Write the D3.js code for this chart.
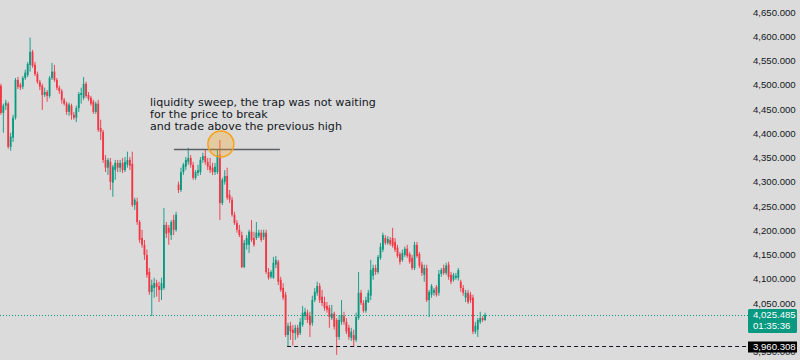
<!DOCTYPE html>
<html>
<head>
<meta charset="utf-8">
<script src="https://cdn.jsdelivr.net/npm/d3@7"></script>
<style>
    body { margin: 0; background: #dbdbdb; }
    svg { display: block; }
    .axis text { font-family: "Liberation Sans", Arial, sans-serif; font-size: 9.6px; fill: #131722; }
    .note { font-family: "DejaVu Sans", sans-serif; font-size: 11.1px; fill: #131722; }
    .tag { font-family: "Liberation Sans", Arial, sans-serif; font-size: 9.6px; fill: #ffffff; }
</style>
</head>
<body>
<script>
// candle values, one entry per bar
const opens = [
    4498, 4442, 4457, 4461, 4372, 4391, 4432, 4510, 4500, 4496,
    4514, 4520, 4541, 4568, 4541, 4522, 4506, 4498, 4479, 4485,
    4477, 4514, 4527, 4510, 4494, 4487, 4469, 4461, 4444, 4457,
    4438, 4432, 4452, 4479, 4473, 4502, 4479, 4473, 4465, 4444,
    4461, 4411, 4403, 4345, 4329, 4341, 4298, 4324, 4339, 4329,
    4339, 4324, 4335, 4345, 4337, 4252, 4259, 4217, 4184, 4170,
    4149, 4114, 4073, 4081, 4091, 4085, 4077, 4081, 4211, 4205,
    4190, 4221, 4201, 4294, 4283, 4320, 4331, 4341, 4349, 4335,
    4308, 4318, 4320, 4345, 4353, 4341, 4333, 4329, 4320, 4320,
    4355, 4256, 4300, 4312, 4273, 4263, 4232, 4215, 4201, 4190,
    4124, 4170, 4170, 4197, 4184, 4184, 4188, 4195, 4186, 4195,
    4114, 4104, 4102, 4129, 4135, 4098, 4081, 4067, 3984, 4003,
    3995, 3988, 3999, 3988, 4005, 4023, 4030, 4023, 4009, 4056,
    4071, 4085, 4063, 4052, 4044, 4040, 4019, 4028, 4015, 3980,
    4011, 4023, 4011, 3999, 3978, 3984, 3974, 4019, 4071, 4050,
    4034, 4052, 4065, 4106, 4122, 4114, 4143, 4160, 4184, 4174,
    4180, 4184, 4176, 4164, 4151, 4139, 4149, 4162, 4151, 4143,
    4122, 4170, 4151, 4129, 4108, 4122, 4056, 4067, 4071, 4083,
    4071, 4110, 4122, 4112, 4129, 4108, 4098, 4102, 4102, 4094,
    4081, 4061, 4071, 4067, 4061, 3991, 3995, 4011, 4019, 4015
]
const highs = [
    4502, 4461, 4469, 4465, 4401, 4438, 4514, 4516, 4504, 4518,
    4531, 4547, 4597, 4572, 4547, 4527, 4510, 4502, 4494, 4489,
    4518, 4545, 4541, 4514, 4498, 4491, 4473, 4465, 4463, 4461,
    4444, 4457, 4485, 4494, 4516, 4506, 4485, 4477, 4469, 4465,
    4469, 4428, 4407, 4355, 4349, 4349, 4335, 4345, 4345, 4345,
    4349, 4351, 4362, 4351, 4362, 4267, 4267, 4221, 4201, 4180,
    4160, 4122, 4098, 4102, 4098, 4094, 4102, 4246, 4217, 4211,
    4221, 4232, 4238, 4300, 4329, 4339, 4351, 4370, 4355, 4341,
    4324, 4335, 4351, 4360, 4366, 4349, 4349, 4339, 4339, 4366,
    4386, 4308, 4324, 4329, 4283, 4269, 4238, 4221, 4211, 4197,
    4180, 4190, 4201, 4221, 4197, 4217, 4201, 4201, 4201, 4201,
    4122, 4118, 4145, 4147, 4139, 4104, 4091, 4073, 4009, 4011,
    4005, 4005, 4005, 4019, 4044, 4040, 4036, 4032, 4065, 4081,
    4094, 4091, 4077, 4063, 4052, 4046, 4046, 4032, 4019, 4025,
    4056, 4032, 4019, 4005, 3999, 3995, 4030, 4114, 4077, 4056,
    4063, 4077, 4139, 4129, 4129, 4149, 4174, 4195, 4190, 4188,
    4186, 4205, 4184, 4170, 4155, 4160, 4166, 4170, 4155, 4149,
    4176, 4176, 4155, 4135, 4129, 4129, 4077, 4089, 4081, 4087,
    4118, 4122, 4129, 4133, 4135, 4114, 4112, 4112, 4122, 4098,
    4087, 4077, 4077, 4073, 4067, 4011, 4019, 4032, 4023, 4030
]
const lows = [
    4438, 4401, 4448, 4368, 4364, 4382, 4428, 4491, 4489, 4491,
    4510, 4516, 4527, 4535, 4518, 4502, 4489, 4448, 4475, 4465,
    4473, 4510, 4506, 4489, 4481, 4461, 4457, 4438, 4436, 4428,
    4428, 4423, 4444, 4461, 4469, 4473, 4467, 4457, 4440, 4440,
    4403, 4386, 4339, 4320, 4314, 4283, 4269, 4304, 4320, 4320,
    4318, 4320, 4329, 4324, 4248, 4242, 4211, 4174, 4164, 4139,
    4102, 4067, 4023, 4061, 4063, 4052, 4056, 4077, 4184, 4170,
    4180, 4190, 4197, 4277, 4279, 4314, 4324, 4335, 4329, 4304,
    4304, 4312, 4314, 4339, 4335, 4324, 4318, 4314, 4314, 4316,
    4221, 4252, 4294, 4263, 4256, 4228, 4211, 4195, 4186, 4122,
    4122, 4160, 4153, 4176, 4166, 4180, 4184, 4176, 4180, 4110,
    4098, 4100, 4100, 4122, 4087, 4073, 4056, 3980, 3960.308, 3974,
    3962, 3974, 3978, 3984, 4001, 4015, 4009, 3980, 4003, 4052,
    4065, 4050, 4044, 4034, 4030, 3999, 4015, 3995, 3943, 3974,
    4005, 4005, 3986, 3974, 3972, 3961, 3970, 4015, 4046, 4030,
    4030, 4050, 4056, 4098, 4108, 4110, 4139, 4155, 4170, 4170,
    4168, 4164, 4155, 4143, 4129, 4135, 4145, 4143, 4131, 4118,
    4118, 4143, 4122, 4106, 4094, 4052, 4021, 4061, 4065, 4063,
    4065, 4104, 4108, 4108, 4098, 4089, 4094, 4098, 4096, 4073,
    4065, 4052, 4048, 4050, 3986, 3986, 3980, 4007, 4011, 4013
]
const closes = [
    4442, 4457, 4463, 4372, 4393, 4432, 4510, 4496, 4494, 4514,
    4525, 4543, 4568, 4539, 4522, 4506, 4496, 4479, 4485, 4477,
    4514, 4527, 4510, 4494, 4487, 4469, 4461, 4444, 4459, 4438,
    4432, 4452, 4481, 4483, 4502, 4477, 4471, 4461, 4444, 4461,
    4407, 4403, 4345, 4329, 4345, 4300, 4331, 4339, 4329, 4339,
    4324, 4341, 4345, 4333, 4252, 4263, 4217, 4180, 4170, 4149,
    4108, 4073, 4087, 4091, 4083, 4077, 4091, 4211, 4193, 4195,
    4217, 4201, 4232, 4283, 4320, 4335, 4345, 4349, 4335, 4308,
    4320, 4324, 4345, 4353, 4341, 4331, 4324, 4320, 4331, 4355,
    4256, 4304, 4312, 4267, 4263, 4232, 4215, 4201, 4190, 4124,
    4174, 4184, 4197, 4180, 4170, 4195, 4195, 4180, 4195, 4114,
    4102, 4114, 4133, 4139, 4094, 4077, 4061, 3984, 4003, 3991,
    3988, 3999, 3984, 4011, 4030, 4032, 4015, 4005, 4056, 4073,
    4085, 4056, 4050, 4040, 4036, 4021, 4028, 4001, 3980, 4015,
    4025, 4011, 3991, 3980, 3991, 3974, 4021, 4071, 4050, 4034,
    4056, 4071, 4118, 4122, 4114, 4145, 4166, 4190, 4174, 4182,
    4172, 4168, 4160, 4147, 4135, 4153, 4162, 4147, 4135, 4122,
    4170, 4147, 4127, 4112, 4122, 4056, 4073, 4085, 4077, 4067,
    4110, 4118, 4112, 4127, 4104, 4094, 4108, 4106, 4118, 4081,
    4071, 4071, 4052, 4056, 3991, 4003, 4015, 4019, 4015, 4025.485
]

// 4,000.000 sits behind the last price tag, so it is not listed
const priceTicks = [3950, 4050, 4100, 4150, 4200, 4250, 4300, 4350, 4400, 4450, 4500, 4550, 4600, 4650]
const lastPrice = 4025.485
const countdown = "01:35:36"
const levelPrice = 3960.308
const noteLines = [
    "liquidity sweep, the trap was not waiting",
    "for the price to break",
    "and trade above the previous high"
]
const sweepHigh = 4386
const sweepIndex = 90

const WIDTH = 800
const HEIGHT = 360
const UP = "#089981"
const DOWN = "#f23645"

const svg = d3.select("body")
    .append("svg")
    .attr("width", WIDTH)
    .attr("height", HEIGHT)

const bars = d3.range(closes.length)

const xScale = d3.scaleBand()
    .domain(bars)
    .range([0, 486])
    .paddingInner(0.25)

const yScale = d3.scaleLinear()
    .domain([3950, 4650])
    .range([351.5, 12])

const cx = i => xScale(i) + xScale.bandwidth() / 2

// last price dotted line
svg.append("line")
    .attr("x1", 0)
    .attr("x2", 748)
    .attr("y1", Math.round(yScale(lastPrice)) + 0.5)
    .attr("y2", Math.round(yScale(lastPrice)) + 0.5)
    .attr("stroke", UP)
    .attr("stroke-dasharray", "1,2")

// wicks
svg.append("g")
    .selectAll("line")
    .data(bars)
    .enter()
    .append("line")
    .attr("x1", cx)
    .attr("x2", cx)
    .attr("y1", i => yScale(highs[i]))
    .attr("y2", i => yScale(lows[i]))
    .attr("stroke", i => closes[i] >= opens[i] ? UP : DOWN)
    .attr("stroke-width", 0.9)

// bodies
svg.append("g")
    .selectAll("rect")
    .data(bars)
    .enter()
    .append("rect")
    .attr("x", i => xScale(i))
    .attr("width", xScale.bandwidth())
    .attr("y", i => yScale(Math.max(opens[i], closes[i])))
    .attr("height", i => Math.max(1, Math.abs(yScale(opens[i]) - yScale(closes[i]))))
    .attr("fill", i => closes[i] >= opens[i] ? UP : DOWN)

// horizontal level
svg.append("line")
    .attr("x1", xScale(118))
    .attr("x2", 748)
    .attr("y1", yScale(levelPrice))
    .attr("y2", yScale(levelPrice))
    .attr("stroke", "#131722")
    .attr("stroke-dasharray", "4,3")

// previous high line and sweep circle
svg.append("line")
    .attr("x1", cx(sweepIndex) - 46)
    .attr("x2", cx(sweepIndex) + 60)
    .attr("y1", 149.5)
    .attr("y2", 149.5)
    .attr("stroke", "#5d5f66")
    .attr("stroke-width", 1.4)

svg.append("circle")
    .attr("cx", cx(sweepIndex) + 1)
    .attr("cy", yScale(sweepHigh) + 4)
    .attr("r", 13)
    .attr("fill", "rgba(247, 162, 27, 0.3)")
    .attr("stroke", "#f7a21b")
    .attr("stroke-width", 1.5)

svg.append("text")
    .attr("class", "note")
    .selectAll("tspan")
    .data(noteLines)
    .enter()
    .append("tspan")
    .attr("x", 150)
    .attr("y", (d, i) => 105.5 + i * 12.3)
    .text(d => d)

// price axis
const yAxis = d3.axisRight(yScale)
    .tickValues(priceTicks)
    .tickFormat(d3.format(",.3f"))
    .tickSize(0)
    .tickPadding(0)

svg.append("g")
    .attr("class", "axis")
    .attr("transform", "translate(753, 0)")
    .call(yAxis)
    .call(g => g.select(".domain").remove())

// last price tag
const tagY = yScale(lastPrice)
svg.append("rect")
    .attr("x", 748)
    .attr("y", tagY - 6)
    .attr("width", 49)
    .attr("height", 24)
    .attr("rx", 1.5)
    .attr("fill", UP)
svg.append("text")
    .attr("class", "tag")
    .attr("x", 753)
    .attr("y", tagY + 3.5)
    .text(d3.format(",.3f")(lastPrice))
svg.append("text")
    .attr("class", "tag")
    .attr("x", 753)
    .attr("y", tagY + 14.5)
    .text(countdown)

// level tag
const levelY = yScale(levelPrice)
svg.append("rect")
    .attr("x", 748)
    .attr("y", levelY - 5)
    .attr("width", 49)
    .attr("height", 11)
    .attr("fill", "#000000")
svg.append("text")
    .attr("class", "tag")
    .attr("x", 753)
    .attr("y", levelY + 3.5)
    .text(d3.format(",.3f")(levelPrice))
</script>
</body>
</html>
